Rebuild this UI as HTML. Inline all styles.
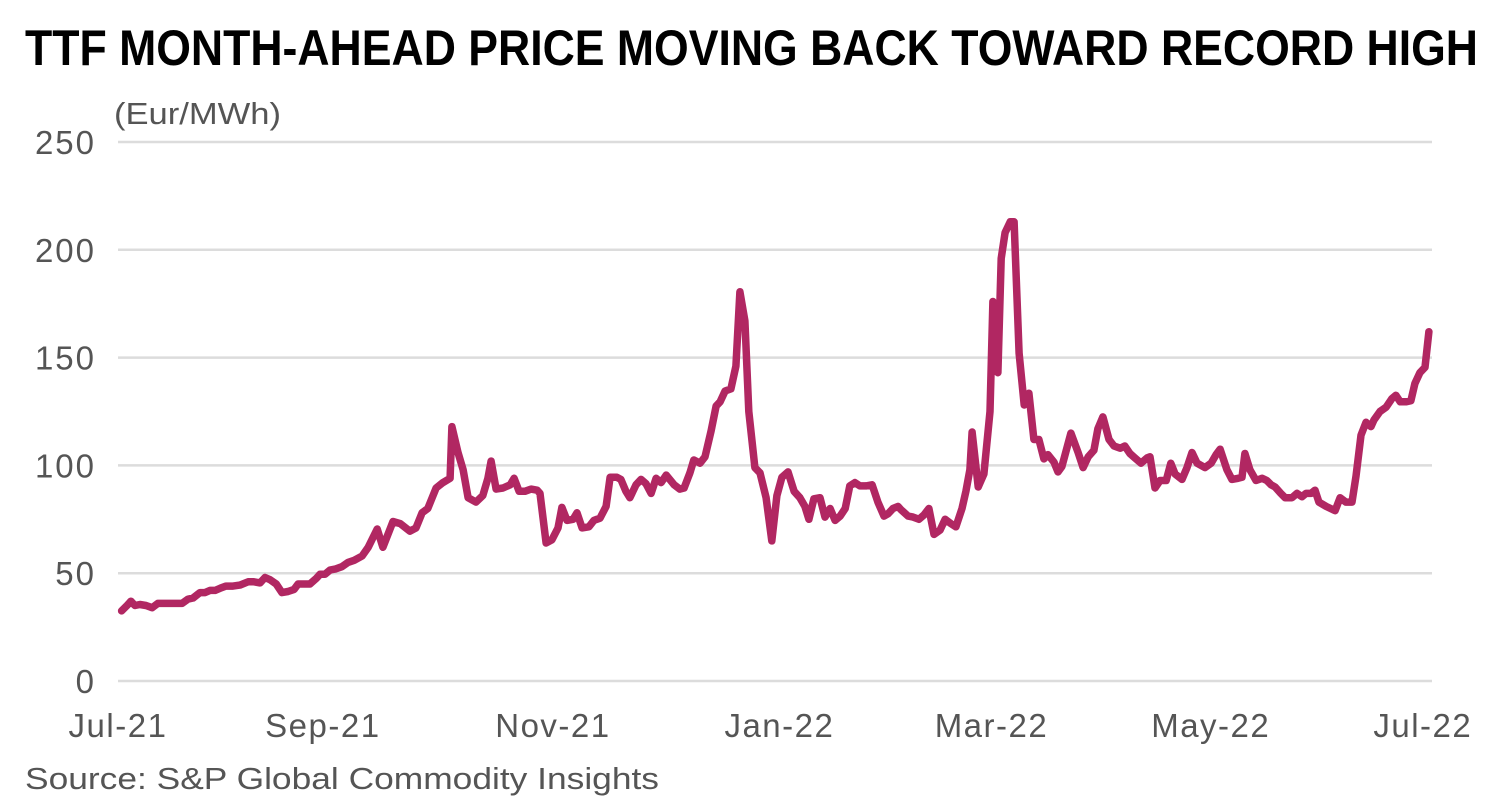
<!DOCTYPE html>
<html><head><meta charset="utf-8"><style>
html,body{margin:0;padding:0;background:#fff;}
svg{display:block;font-family:"Liberation Sans",sans-serif;}
</style></head><body>
<svg id="chart" width="1506" height="812" viewBox="0 0 1506 812">
<text x="25" y="65" font-size="50" font-weight="bold" fill="#000" textLength="1453" lengthAdjust="spacingAndGlyphs">TTF MONTH-AHEAD PRICE MOVING BACK TOWARD RECORD HIGH</text>
<text x="114" y="124" font-size="31" fill="#555" textLength="167" lengthAdjust="spacingAndGlyphs">(Eur/MWh)</text>
<g id="grid"></g><g id="yticks"></g><g id="xticks"></g><g id="series"></g>
<text x="25" y="789" font-size="31" fill="#555" textLength="634" lengthAdjust="spacingAndGlyphs">Source: S&amp;P Global Commodity Insights</text>
</svg>
<script>
const yTicks=[0,50,100,150,200,250];
const xTickLabels=["Jul-21","Sep-21","Nov-21","Jan-22","Mar-22","May-22","Jul-22"];
const xTickDays=[0,57,121,184,243,304,363];
const days=[1,2.5,3.6,4.7,6.1,7.8,9.5,11.1,12.8,14.5,16.1,17.8,19.5,20.9,22.8,24.2,25.6,27,28.4,30,32,33.9,36.2,37.8,39.5,40.9,42.3,44,45.6,47.3,49,50.1,51.7,53.4,55.1,56.2,57.6,59,60.6,62.3,64,65.7,67.9,69.6,72.1,73.7,76.5,78.5,81.2,82.9,84.6,86.2,88.5,90.4,92.4,92.9,94.6,96,97.4,99.6,101.5,102.9,103.8,105.2,107.1,109.1,110.2,111.6,113.2,114.9,116.6,117.4,119.1,120.7,122.4,123.5,124.9,126.6,127.7,129.1,131,132.4,134.1,135.8,136.9,138.8,139.9,141.3,142.4,144.1,145.5,146.9,148.3,149.7,151.1,152.5,154.7,156.3,157.5,159.1,160.2,161.9,163.3,165,166.4,167.5,168.9,170.5,171.9,173,174.4,175.5,177.2,178.6,180.3,181.9,183.3,184.7,186.4,188.1,189.7,191.1,192.2,193.6,195.3,196.7,198.1,199.5,200.9,202.3,203.6,205,206.4,208.1,209.8,211.4,213.1,214.2,215.6,217,217.8,219.8,221.2,222.8,224.2,225.6,227,228.7,230.1,231.7,233.1,234.8,235.9,237,237.6,239.3,240.9,242.6,243.4,244.8,245.7,246.8,248.2,249.3,250.7,252.1,253.4,254.8,256.2,257.6,258.7,260.4,261.5,262.6,265.1,267.1,268.5,269.9,271.5,272.6,274,275.7,277.1,278.8,280.1,281.5,282.9,284.6,286.3,287.1,288.5,289.9,291.6,292.9,294.1,296,297.4,298.8,300.2,302.4,304.1,305.5,306.6,308.5,309.9,311.6,312.7,313.5,314.9,316.6,318.3,319.6,320.8,321.9,323.5,324.7,326.6,328,329.4,330.5,331.9,333,334.1,336.1,338,338.6,340,341.6,343.3,344.4,345.8,347.2,348.6,349.4,351.1,352.8,354.4,355.5,356.7,358.3,359.7,360.8,362.2,363.6,364.7];
const prices=[32.5,35,37,35,35.5,35,34,36,36,36,36,36,38,38.5,41,41,42,42,43,44,44,44.5,46,46,45.5,48,47,45,41,41.5,42.5,45,45,45,47.5,49.5,49.5,51.5,52,53,55,56,58,62,70.5,62,74,73,69.5,71,78,80,89.5,92,94,118,106,98,85,83,86,94,102,89,89.5,91,94,88,88,89,88.5,87,64,65.5,71,80.5,74.5,75,78,71,71.5,74.5,75.5,81,94.5,94.5,93.5,88,85,91,93.5,91.5,87,94,92,95.5,91,89,89.5,96.5,102.5,101,104,116,127.5,129.5,134.5,135.5,146,180.5,167,125,99,96.5,85,65,86,94.5,97,88,85,81,75,84.5,85,76,80,74.5,76.5,80,90.5,92,90.5,90.5,91,83,76.5,77.5,80,81,79.5,76.5,76,75,77,80,68,70,75,73,71.5,80,88,98,115.5,90,96,125,176,143,196,208,213,213,152,128,133.5,112,112,103,105,101.5,97,99.5,115,106,99,104,107,117,122.5,112,109,108,109,105.5,103.5,101,103.5,104,89.5,93,93,101,96,93.5,99,106,101,99,101,105,107.5,98,93.5,94,94.5,105.5,98,93,94,93,91,90,87,85,85,87,85.5,87,87,88.5,83,81,79.5,79,85,83,83,95,114,120,118,121,125,127,131,132.5,129.5,129.5,130,138,143,145.5,162];
const NS='http://www.w3.org/2000/svg';
const X0=118,X1=1430,Y0=681,Y1=142;
const xs=d=>X0+(d/365)*(X1-X0);
const ys=v=>Y0-(v/250)*(Y0-Y1);
const grid=document.getElementById('grid'),yt=document.getElementById('yticks'),xt=document.getElementById('xticks'),ser=document.getElementById('series');
yTicks.forEach(t=>{
  const l=document.createElementNS(NS,'line');
  
  
  l.setAttribute('x1',X0);l.setAttribute('x2',1432);l.setAttribute('y1',ys(t));l.setAttribute('y2',ys(t));
  l.setAttribute('stroke','#dcdcdc');l.setAttribute('stroke-width','2.5');
  grid.appendChild(l);
  const tx=document.createElementNS(NS,'text');
  
  
  tx.setAttribute('x',96);tx.setAttribute('y',ys(t)+12);tx.setAttribute('text-anchor','end');
  tx.setAttribute('font-size','33');tx.setAttribute('fill','#555');tx.setAttribute('letter-spacing','2');
  tx.textContent=t;yt.appendChild(tx);
});
xTickLabels.forEach((lab,i)=>{
  const tx=document.createElementNS(NS,'text');
  
  
  tx.setAttribute('x',xs(xTickDays[i]));tx.setAttribute('y',737);tx.setAttribute('text-anchor','middle');
  tx.setAttribute('font-size','33');tx.setAttribute('fill','#555');tx.setAttribute('letter-spacing','1.5');
  tx.textContent=lab;xt.appendChild(tx);
});
const p=document.createElementNS(NS,'polyline');


p.setAttribute('points',days.map((d,i)=>xs(d).toFixed(1)+','+ys(prices[i]).toFixed(1)).join(' '));
p.setAttribute('fill','none');p.setAttribute('stroke','#b12762');p.setAttribute('stroke-width','7.5');
p.setAttribute('stroke-linejoin','round');p.setAttribute('stroke-linecap','round');
ser.appendChild(p);
</script>
</body></html>
